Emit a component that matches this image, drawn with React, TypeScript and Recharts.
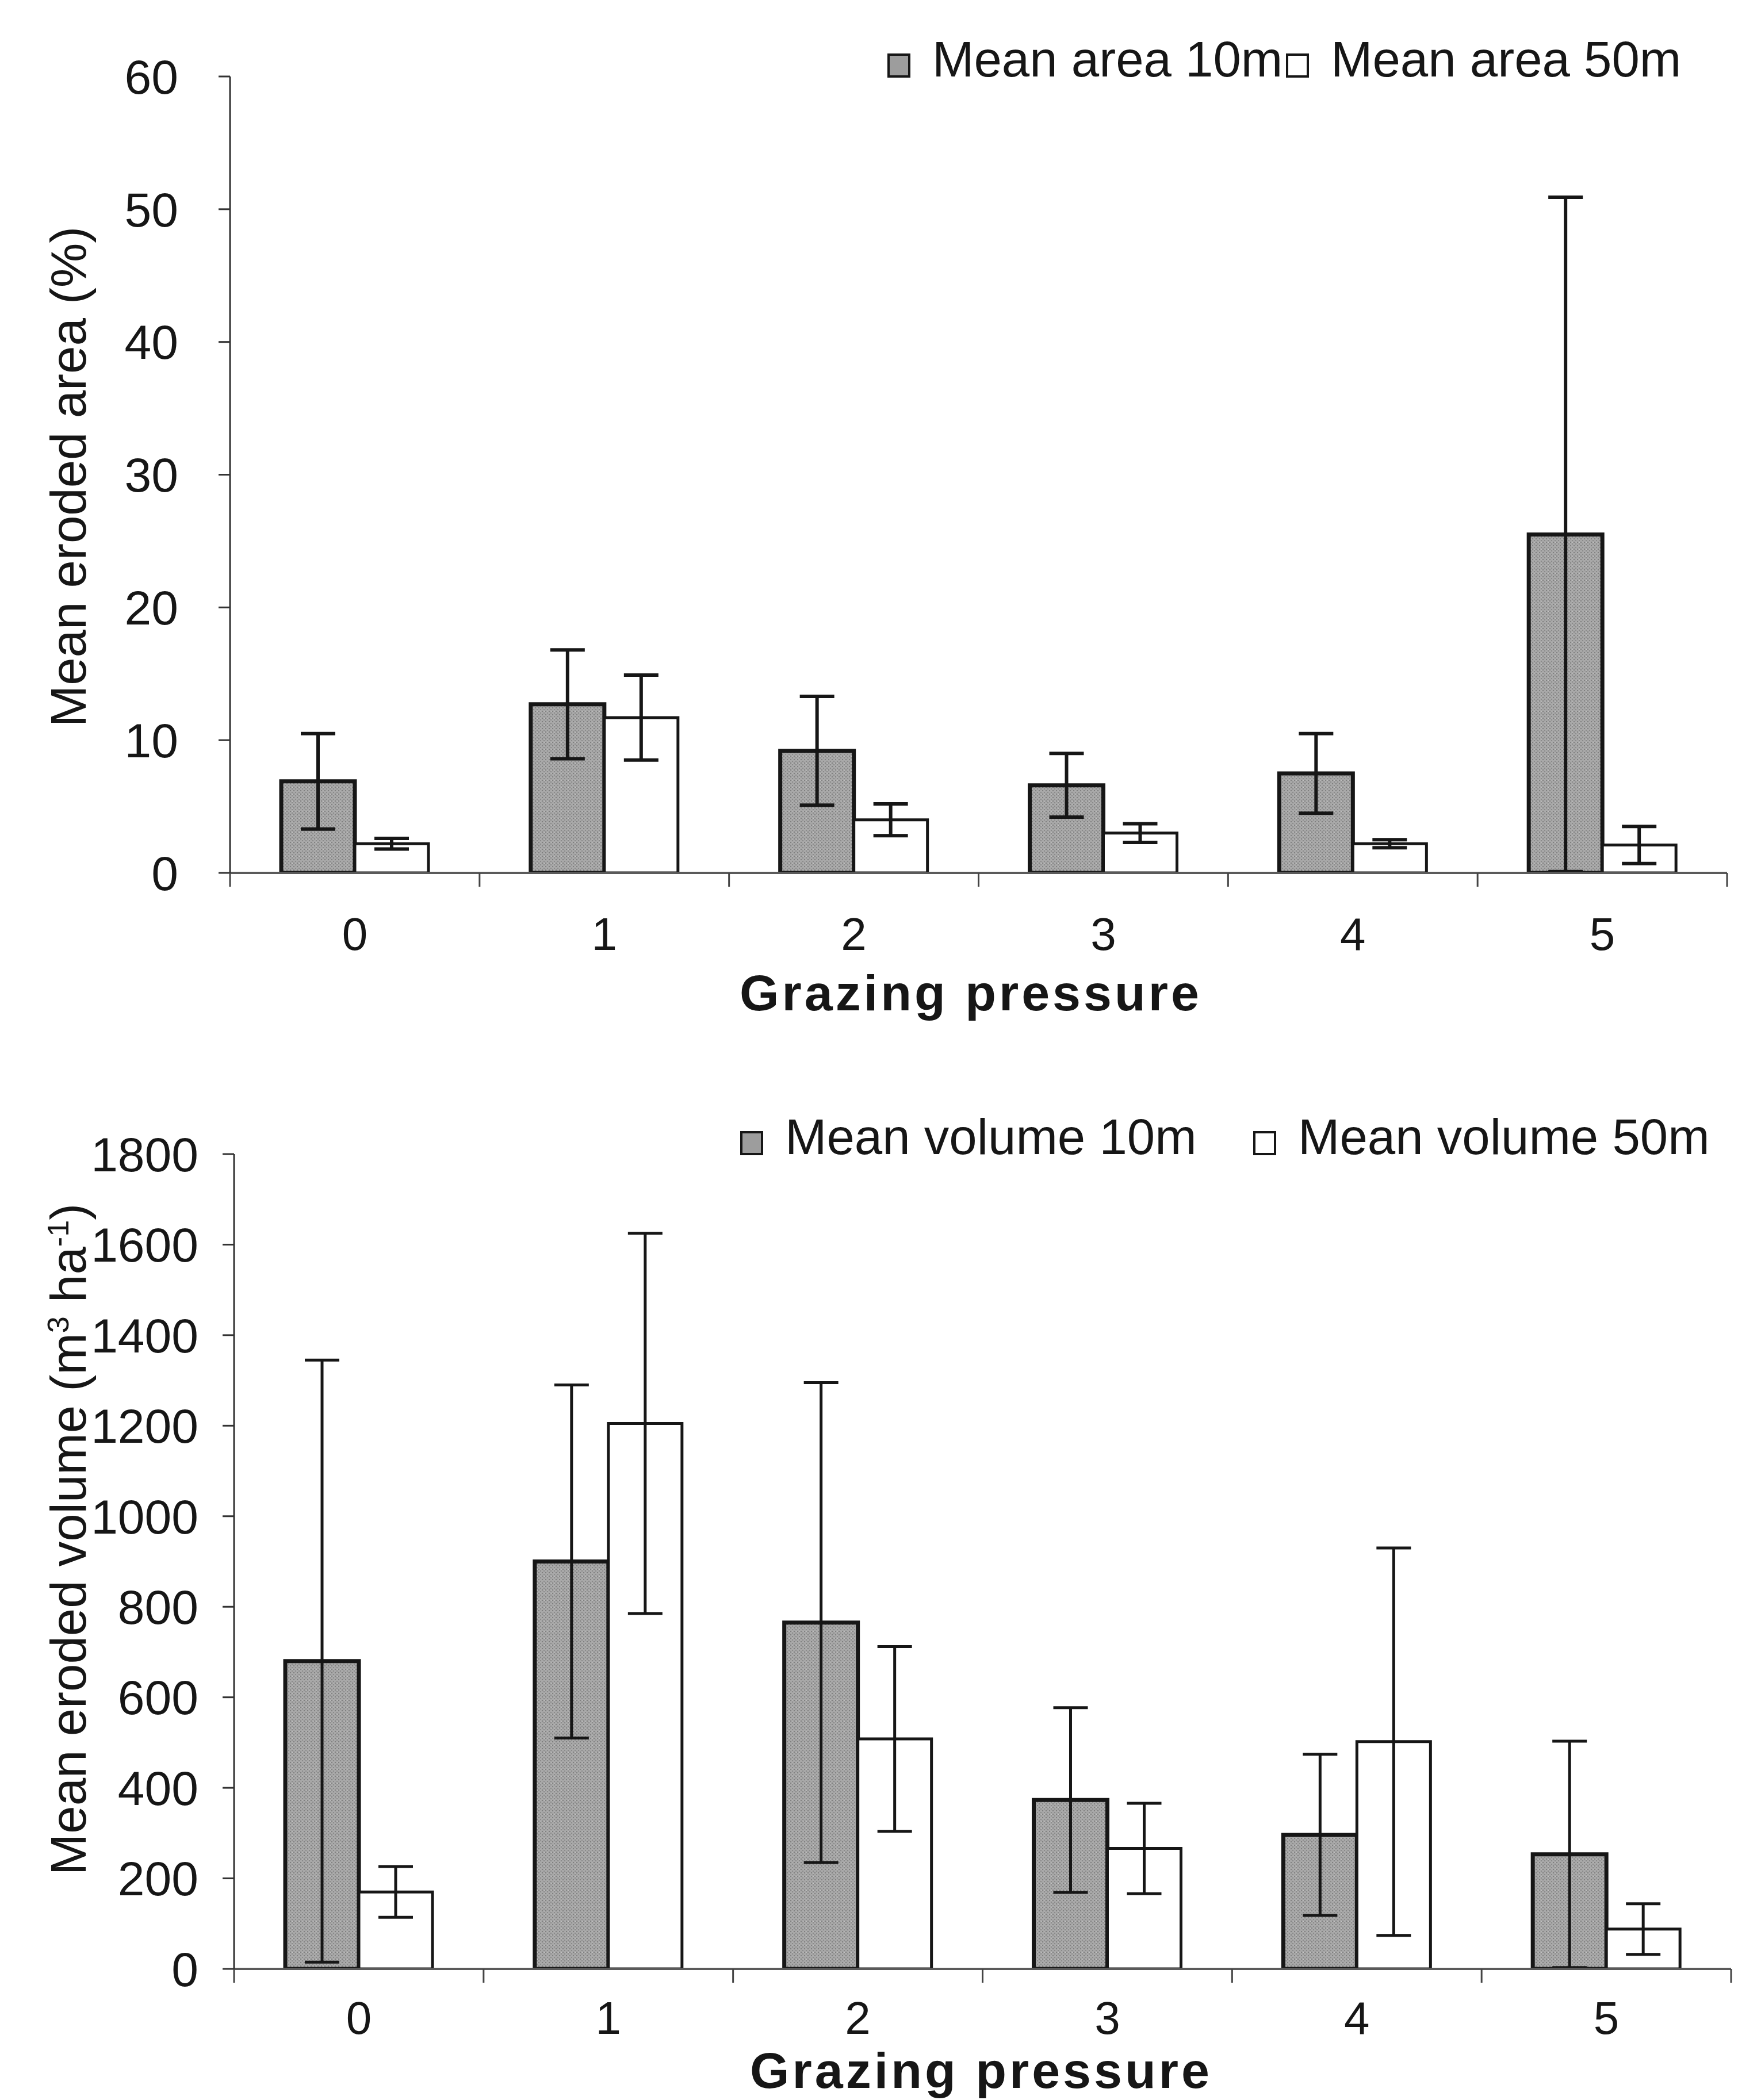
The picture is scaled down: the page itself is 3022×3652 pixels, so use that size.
import React from "react"
import { BarChart, Bar, XAxis, YAxis, ErrorBar } from "recharts"

// Grazing pressure classes
const pressure = ["0", "1", "2", "3", "4", "5"]

// Mean eroded area (%) with error
const area10 = [6.9, 12.7, 9.2, 6.6, 7.5, 25.5]
const area10Err = [3.6, 4.1, 4.1, 2.4, 3.0, 25.4]
const area50 = [2.2, 11.7, 4.0, 3.0, 2.2, 2.1]
const area50Err = [0.4, 3.2, 1.2, 0.7, 0.3, 1.4]

// Mean eroded volume (m3 ha-1) with error
const volume10 = [680, 900, 765, 373, 296, 253]
const volume10Err = [665, 390, 530, 204, 178, 250]
const volume50 = [170, 1205, 508, 266, 502, 88]
const volume50Err = [56, 420, 204, 100, 428, 56]

const areaTicks = [0, 10, 20, 30, 40, 50, 60]
const volumeTicks = [0, 200, 400, 600, 800, 1000, 1200, 1400, 1600, 1800]

const areaRows = pressure.map((p, i) => ({
  pressure: p,
  a10: area10[i],
  a10Err: area10Err[i],
  a50: area50[i],
  a50Err: area50Err[i],
}))

const volumeRows = pressure.map((p, i) => ({
  pressure: p,
  v10: volume10[i],
  v10Err: volume10Err[i],
  v50: volume50[i],
  v50Err: volume50Err[i],
}))

const FONT = "'Liberation Sans', Arial, Helvetica, sans-serif"
const INK = "#161616"
const GRAY = "#9d9d9d"
const HALF_BAND = (3003 - 400) / 12

// x ticks sit on the category boundaries, labels in the middle
function CategoryTick(props: any) {
  const { x, y, payload, index, labelOffset } = props
  const tickLen = 24
  return (
    <g>
      <line x1={x - HALF_BAND} y1={y} x2={x - HALF_BAND} y2={y + tickLen} stroke="#444" strokeWidth={3} />
      {index === pressure.length - 1 && (
        <line x1={x + HALF_BAND} y1={y} x2={x + HALF_BAND} y2={y + tickLen} stroke="#444" strokeWidth={3} />
      )}
      <text x={x} y={y + labelOffset} textAnchor="middle" dominantBaseline="central" fontSize={80} fontFamily={FONT} fill={INK}>
        {payload.value}
      </text>
    </g>
  )
}

function Grain({ id }: { id: string }) {
  return (
    <defs>
      <pattern id={id} width="6" height="6" patternUnits="userSpaceOnUse">
        <rect width="6" height="6" fill="#a8a8a8" />
        <rect x="0" y="0" width="2" height="2" fill="#808080" />
        <rect x="3" y="3" width="2" height="2" fill="#8a8a8a" />
        <rect x="4" y="1" width="1" height="1" fill="#c6c6c6" />
      </pattern>
    </defs>
  )
}

function LegendKey({ left, top, filled, label }: { left: number; top: number; filled: boolean; label: string }) {
  return (
    <>
      <div
        style={{
          position: "absolute",
          left,
          top: top + 34,
          width: 40,
          height: 42,
          boxSizing: "border-box",
          border: `4px solid ${INK}`,
          background: filled ? GRAY : "#fff",
        }}
      />
      <div
        style={{
          position: "absolute",
          left: left + 78,
          top,
          fontFamily: FONT,
          fontSize: 87,
          lineHeight: "87px",
          color: INK,
          whiteSpace: "nowrap",
        }}
      >
        {label}
      </div>
    </>
  )
}

function AxisTitleY({ cx, cy, children }: { cx: number; cy: number; children: React.ReactNode }) {
  return (
    <div
      style={{
        position: "absolute",
        left: cx,
        top: cy,
        transform: "translate(-50%, -50%) rotate(-90deg)",
        fontFamily: FONT,
        fontSize: 87,
        lineHeight: "87px",
        color: INK,
        whiteSpace: "nowrap",
      }}
    >
      {children}
    </div>
  )
}

function AxisTitleX({ cx, cy }: { cx: number; cy: number }) {
  return (
    <div
      style={{
        position: "absolute",
        left: cx,
        top: cy,
        transform: "translate(-50%, -50%)",
        fontFamily: FONT,
        fontWeight: 700,
        fontSize: 88,
        letterSpacing: 5,
        lineHeight: "64px",
        color: INK,
        whiteSpace: "nowrap",
      }}
    >
      Grazing pressure
    </div>
  )
}

const axisLineY = { stroke: "#333", strokeWidth: 3 }
const axisLineX = { stroke: "#5a5a5a", strokeWidth: 4 }
const yTick = { fontSize: 84, fill: INK, fontFamily: FONT }

export default function App() {
  return (
    <div style={{ position: "absolute", left: 0, top: 0, width: 3022, height: 3652, background: "#fff", overflow: "hidden" }}>
      {/* eroded area */}
      <div style={{ position: "absolute", left: 0, top: 0 }}>
        <BarChart
          width={3022}
          height={1800}
          data={areaRows}
          margin={{ top: 133, right: 19, left: 150, bottom: 0 }}
          barCategoryGap={89}
          barGap={0}
        >
          <Grain id="grainArea" />
          <XAxis
            dataKey="pressure"
            height={282}
            interval={0}
            tickLine={false}
            tickSize={0}
            tickMargin={0}
            axisLine={axisLineX}
            tick={(p: any) => <CategoryTick {...p} labelOffset={106} />}
          />
          <YAxis
            type="number"
            domain={[0, 60]}
            ticks={areaTicks}
            interval={0}
            allowDataOverflow
            width={250}
            tickSize={20}
            tickMargin={70}
            axisLine={axisLineY}
            tickLine={axisLineY}
            tick={yTick}
          />
          <Bar dataKey="a10" fill="url(#grainArea)" stroke={INK} strokeWidth={7} isAnimationActive={false}>
            <ErrorBar dataKey="a10Err" direction="y" width={30} strokeWidth={6} stroke={INK} isAnimationActive={false} />
          </Bar>
          <Bar dataKey="a50" fill="#ffffff" stroke={INK} strokeWidth={5} isAnimationActive={false}>
            <ErrorBar dataKey="a50Err" direction="y" width={30} strokeWidth={6} stroke={INK} isAnimationActive={false} />
          </Bar>
        </BarChart>
      </div>

      {/* eroded volume */}
      <div style={{ position: "absolute", left: 0, top: 1900 }}>
        <BarChart
          width={3022}
          height={1752}
          data={volumeRows}
          margin={{ top: 107, right: 12, left: 157, bottom: 0 }}
          barCategoryGap={89}
          barGap={0}
        >
          <Grain id="grainVolume" />
          <XAxis
            dataKey="pressure"
            height={228}
            interval={0}
            tickLine={false}
            tickSize={0}
            tickMargin={0}
            axisLine={axisLineX}
            tick={(p: any) => <CategoryTick {...p} labelOffset={85} />}
          />
          <YAxis
            type="number"
            domain={[0, 1800]}
            ticks={volumeTicks}
            interval={0}
            allowDataOverflow
            width={250}
            tickSize={20}
            tickMargin={42}
            axisLine={axisLineY}
            tickLine={axisLineY}
            tick={yTick}
          />
          <Bar dataKey="v10" fill="url(#grainVolume)" stroke={INK} strokeWidth={7} isAnimationActive={false}>
            <ErrorBar dataKey="v10Err" direction="y" width={30} strokeWidth={5} stroke={INK} isAnimationActive={false} />
          </Bar>
          <Bar dataKey="v50" fill="#ffffff" stroke={INK} strokeWidth={5} isAnimationActive={false}>
            <ErrorBar dataKey="v50Err" direction="y" width={30} strokeWidth={5} stroke={INK} isAnimationActive={false} />
          </Bar>
        </BarChart>
      </div>

      {/* legends */}
      <LegendKey left={1543} top={59} filled label="Mean area 10m" />
      <LegendKey left={2236} top={59} filled={false} label="Mean area 50m" />
      <LegendKey left={1287} top={1933} filled label="Mean volume 10m" />
      <LegendKey left={2179} top={1933} filled={false} label="Mean volume 50m" />

      {/* axis titles */}
      <AxisTitleY cx={118} cy={829}>Mean eroded area (%)</AxisTitleY>
      <AxisTitleY cx={118} cy={2677}>
        Mean eroded volume (m<sup style={{ fontSize: "0.6em", lineHeight: 0 }}>3</sup> ha
        <sup style={{ fontSize: "0.6em", lineHeight: 0 }}>-1</sup>)
      </AxisTitleY>
      <AxisTitleX cx={1688} cy={1727} />
      <AxisTitleX cx={1706} cy={3601} />
    </div>
  )
}
